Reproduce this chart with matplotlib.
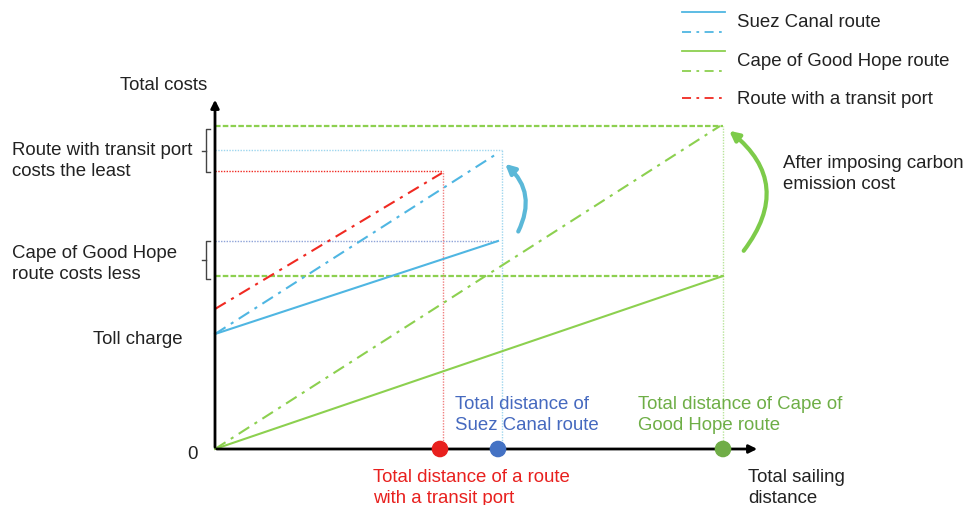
import numpy as np
import matplotlib.pyplot as plt
from matplotlib.patches import FancyArrowPatch

plt.rcParams['font.family'] = ['Liberation Sans', 'DejaVu Sans']

# conceptual values (distance, cost) in arbitrary units
routes = ['transit', 'suez', 'cape']
distance = {'transit': 225, 'suez': 285, 'cape': 508}
base_start = {'suez': 115, 'cape': 0}          # cost at zero distance, no carbon cost
base_end = {'suez': 208, 'cape': 173}          # cost at full distance, no carbon cost
carbon_start = {'transit': 140, 'suez': 115, 'cape': 0}
carbon_end = {'transit': 278, 'suez': 296, 'cape': 323}

suez_c = '#4FB6E2'
cape_c = '#8CD04F'
red_c = '#F02A22'
blue_txt = '#4569BF'
green_txt = '#6EAE46'
txt_c = '#222222'

fig = plt.figure(figsize=(9.63, 5.06), dpi=100)
ax = fig.add_axes([0, 0, 1, 1])
ax.set_xlim(-215, 748)
ax.set_ylim(-56, 450)
ax.axis('off')

fs = 13.4
ls_ = 1.38

# axes arrows
ax.annotate('', xy=(0, 352), xytext=(0, -1),
            arrowprops=dict(arrowstyle='-|>', lw=2, color='black', mutation_scale=12))
ax.annotate('', xy=(545, 0), xytext=(-1, 0),
            arrowprops=dict(arrowstyle='-|>', lw=2, color='black', mutation_scale=12))

# guide lines (dotted)
gl = dict(lw=1, ls=(0, (1, 1)))
gd = dict(lw=1.6, ls=(0, (2.5, 1)))
ax.plot([0, distance['cape']], [carbon_end['cape']] * 2, color=cape_c, **gd)
ax.plot([0, distance['cape']], [base_end['cape']] * 2, color=cape_c, **gd)
ax.plot([distance['cape']] * 2, [0, carbon_end['cape']], color='#B8E49A', **gl)
ax.plot([0, distance['suez'] + 2], [carbon_end['suez'] + 3] * 2, color='#9ED6EE', **gl)
ax.plot([distance['suez'] + 2] * 2, [0, carbon_end['suez'] + 3], color='#9ED6EE', **gl)
ax.plot([0, distance['suez'] - 2], [base_end['suez']] * 2, color='#8EA3D8', **gl)
ax.plot([0, distance['transit'] + 3], [carbon_end['transit']] * 2, color=red_c, **gl)
ax.plot([distance['transit'] + 3] * 2, [0, carbon_end['transit']], color='#F08080', **gl)

# cost lines
ax.plot([0, distance['suez'] - 2], [base_start['suez'], base_end['suez']], color=suez_c, lw=1.5)
ax.plot([0, distance['suez'] - 2], [carbon_start['suez'], carbon_end['suez']], color=suez_c, lw=1.5,
        ls=(0, (6, 3, 1.5, 3)))
ax.plot([0, distance['cape']], [base_start['cape'], base_end['cape']], color=cape_c, lw=1.5)
ax.plot([0, distance['cape'] - 3], [carbon_start['cape'], carbon_end['cape']], color=cape_c, lw=1.5,
        ls=(0, (6, 3, 1.5, 3)))
ax.plot([0, distance['transit'] + 2], [carbon_start['transit'], carbon_end['transit'] - 2], color=red_c,
        lw=1.5, ls=(0, (6, 3, 1.5, 3)))

# points on the distance axis
ax.scatter([distance['transit'], distance['suez'] - 2, distance['cape']], [0, 0, 0],
           s=120, color=['#E8201E', '#4472C4', '#70AD47'], zorder=5, clip_on=False)

# curved arrows
ax.add_patch(FancyArrowPatch((302, 215), (288, 287), connectionstyle='arc3,rad=0.4',
                             arrowstyle='-|>', mutation_scale=14, lw=3, color='#5BB8D8'))
ax.add_patch(FancyArrowPatch((527, 196), (512, 320), connectionstyle='arc3,rad=0.5',
                             arrowstyle='-|>', mutation_scale=14, lw=3, color='#7DCB4A'))

# brackets
for top, bot in [(320, 277), (208, 170)]:
    ax.plot([-5, -9, -9, -5], [top, top, bot, bot], color='#444444', lw=1)
    ax.plot([-9, -13], [(top + bot) / 2] * 2, color='#444444', lw=1)

# texts
ax.text(-51, 364, 'Total costs', fontsize=fs, ha='center', va='center', color=txt_c)
ax.text(-203, 289, 'Route with transit port\ncosts the least', fontsize=fs, ha='left', va='center',
        linespacing=ls_, color=txt_c)
ax.text(-203, 186, 'Cape of Good Hope\nroute costs less', fontsize=fs, ha='left', va='center',
        linespacing=ls_, color=txt_c)
ax.text(-122, 111, 'Toll charge', fontsize=fs, ha='left', va='center', color=txt_c)
ax.text(-23, -5, '0', fontsize=fs, ha='center', va='center', color=txt_c)
ax.text(240, 35, 'Total distance of\nSuez Canal route', fontsize=fs, ha='left', va='center',
        color=blue_txt, linespacing=ls_)
ax.text(423, 35, 'Total distance of Cape of\nGood Hope route', fontsize=fs, ha='left', va='center',
        color=green_txt, linespacing=ls_)
ax.text(158, -38, 'Total distance of a route\nwith a transit port', fontsize=fs, ha='left', va='center',
        color='#E8201E', linespacing=ls_)
ax.text(533, -38, 'Total sailing\ndistance', fontsize=fs, ha='left', va='center', linespacing=ls_,
        color=txt_c)
ax.text(568, 276, 'After imposing carbon\nemission cost', fontsize=fs, ha='left', va='center',
        linespacing=ls_, color=txt_c)

# legend
leg = [('Suez Canal route', suez_c), ('Cape of Good Hope route', cape_c), ('Route with a transit port', red_c)]
ly = [437, 398, 358]
for (lab, col), y in zip(leg, ly):
    if lab != 'Route with a transit port':
        ax.plot([467, 510], [y, y], color=col, lw=1.3)
        ax.plot([467, 510], [y - 20, y - 20], color=col, lw=1.3, ls=(0, (5, 3, 1.5, 3)))
        ax.text(522, y - 9, lab, fontsize=fs, ha='left', va='center', color=txt_c)
    else:
        ax.plot([467, 510], [351, 351], color=col, lw=1.3, ls=(0, (5, 3, 1.5, 3)))
        ax.text(522, 351, lab, fontsize=fs, ha='left', va='center', color=txt_c)

fig.savefig('out.png', dpi=100)
